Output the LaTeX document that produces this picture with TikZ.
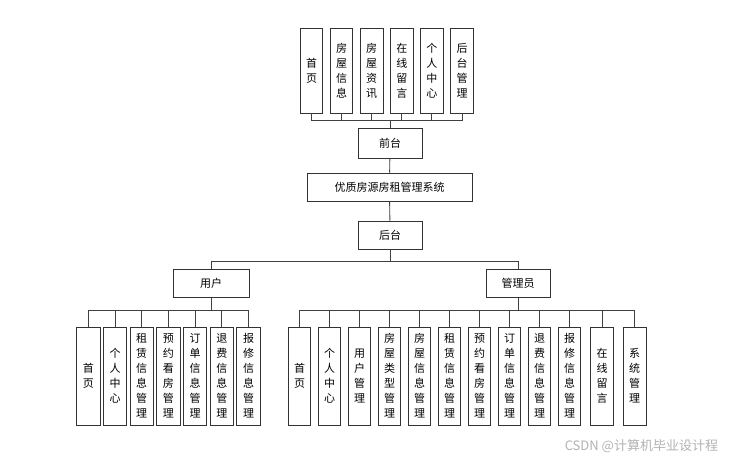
\documentclass[tikz,border=0pt]{standalone}
\usepackage{fontspec}
\setmainfont{Noto Sans CJK SC}
\usetikzlibrary{positioning}

\begin{document}
\begin{tikzpicture}[x=1pt, y=-1pt, line width=0.9pt,
  every node/.style={font=\fontsize{11}{15}\selectfont},
  hbox/.style={draw=black!80, fill=white, minimum height=28pt, inner sep=0pt},
  topbox/.style={draw=black!80, fill=white, align=center, minimum width=22.5pt, minimum height=85pt, inner sep=0pt},
  leafbox/.style={draw=black!80, fill=white, align=center, minimum width=22.6pt, minimum height=98pt, inner sep=0pt},
  link/.style={draw=black!75, line width=0.9pt}]
\useasboundingbox (0,0) rectangle (730,460);

% front pages
\node[topbox] (fhome) at (311.5,70.5) {首\\页};
\node[topbox, right=6.7pt of fhome] (finfo) {房\\屋\\信\\息};
\node[topbox, right=6.7pt of finfo] (fnews) {房\\屋\\资\\讯};
\node[topbox, right=6.7pt of fnews] (fmsg) {在\\线\\留\\言};
\node[topbox, right=6.7pt of fmsg] (fcenter) {个\\人\\中\\心};
\node[topbox, right=6.7pt of fcenter] (fback) {后\\台\\管\\理};

\node[hbox, minimum width=64pt, minimum height=30pt] (front) at (390,143) {前台};
\node[hbox, minimum width=165pt] (sys) at (389.5,187) {优质房源房租管理系统};
\node[hbox, minimum width=64pt] (back) at (390,235) {后台};
\node[hbox, minimum width=76pt] (user) at (211,283.5) {用户};
\node[hbox, minimum width=64pt] (mgr) at (518,283.5) {管理员};

% user pages
\node[leafbox, minimum width=23.3pt] (uhome) at (88.3,376) {首\\页};
\node[leafbox, minimum width=23.3pt, right=2.5pt of uhome] (ucenter) {个\\人\\中\\心};
\node[leafbox, minimum width=23.3pt, right=2.5pt of ucenter] (urent) {租\\赁\\信\\息\\管\\理};
\node[leafbox, minimum width=23.3pt, right=2.5pt of urent] (ubook) {预\\约\\看\\房\\管\\理};
\node[leafbox, minimum width=23.3pt, right=2.5pt of ubook] (uorder) {订\\单\\信\\息\\管\\理};
\node[leafbox, minimum width=23.3pt, right=2.5pt of uorder] (urefund) {退\\费\\信\\息\\管\\理};
\node[leafbox, minimum width=23.3pt, right=2.5pt of urefund] (urepair) {报\\修\\信\\息\\管\\理};

% admin pages
\node[leafbox] (mhome) at (299.5,376) {首\\页};
\node[leafbox, right=6.5pt of mhome] (mcenter) {个\\人\\中\\心};
\node[leafbox, right=6.5pt of mcenter] (muser) {用\\户\\管\\理};
\node[leafbox, right=6.5pt of muser] (mtype) {房\\屋\\类\\型\\管\\理};
\node[leafbox, right=6.5pt of mtype] (minfo) {房\\屋\\信\\息\\管\\理};
\node[leafbox, right=6.5pt of minfo] (mrent) {租\\赁\\信\\息\\管\\理};
\node[leafbox, right=6.5pt of mrent] (mbook) {预\\约\\看\\房\\管\\理};
\node[leafbox, right=6.5pt of mbook] (morder) {订\\单\\信\\息\\管\\理};
\node[leafbox, right=6.5pt of morder] (mrefund) {退\\费\\信\\息\\管\\理};
\node[leafbox, right=6.5pt of mrefund] (mrepair) {报\\修\\信\\息\\管\\理};
\node[leafbox, right=9.1pt of mrepair] (mmsg) {在\\线\\留\\言};
\node[leafbox, right=9.1pt of mmsg] (msys) {系\\统\\管\\理};

\node[font=\fontsize{13}{15}\selectfont, text=black!30, anchor=west] (mark) at (561,446) {CSDN @计算机毕业设计程};

% junctions
\coordinate (fj) at (390,120);
\coordinate (bj) at (390,261);
\coordinate (uj) at (211,310.7);
\coordinate (mj) at (518,310.7);

\draw[link] (fhome) |- (fj);
\draw[link] (finfo) |- (fj);
\draw[link] (fnews) |- (fj);
\draw[link] (fmsg) |- (fj);
\draw[link] (fcenter) |- (fj);
\draw[link] (fback) |- (fj);
\draw[link] (fj) -- (front);
\draw[link] (front) -- (sys);
\draw[link] (sys) -- (back);
\draw[link] (back) -- (bj);
\draw[link] (bj) -| (user);
\draw[link] (bj) -| (mgr);

\draw[link] (user) -- (uj);
\draw[link] (uj) -| (uhome);
\draw[link] (uj) -| (ucenter);
\draw[link] (uj) -| (urent);
\draw[link] (uj) -| (ubook);
\draw[link] (uj) -| (uorder);
\draw[link] (uj) -| (urefund);
\draw[link] (uj) -| (urepair);

\draw[link] (mgr) -- (mj);
\draw[link] (mj) -| (mhome);
\draw[link] (mj) -| (mcenter);
\draw[link] (mj) -| (muser);
\draw[link] (mj) -| (mtype);
\draw[link] (mj) -| (minfo);
\draw[link] (mj) -| (mrent);
\draw[link] (mj) -| (mbook);
\draw[link] (mj) -| (morder);
\draw[link] (mj) -| (mrefund);
\draw[link] (mj) -| (mrepair);
\draw[link] (mj) -| (mmsg);
\draw[link] (mj) -| (msys);
\end{tikzpicture}
\end{document}
